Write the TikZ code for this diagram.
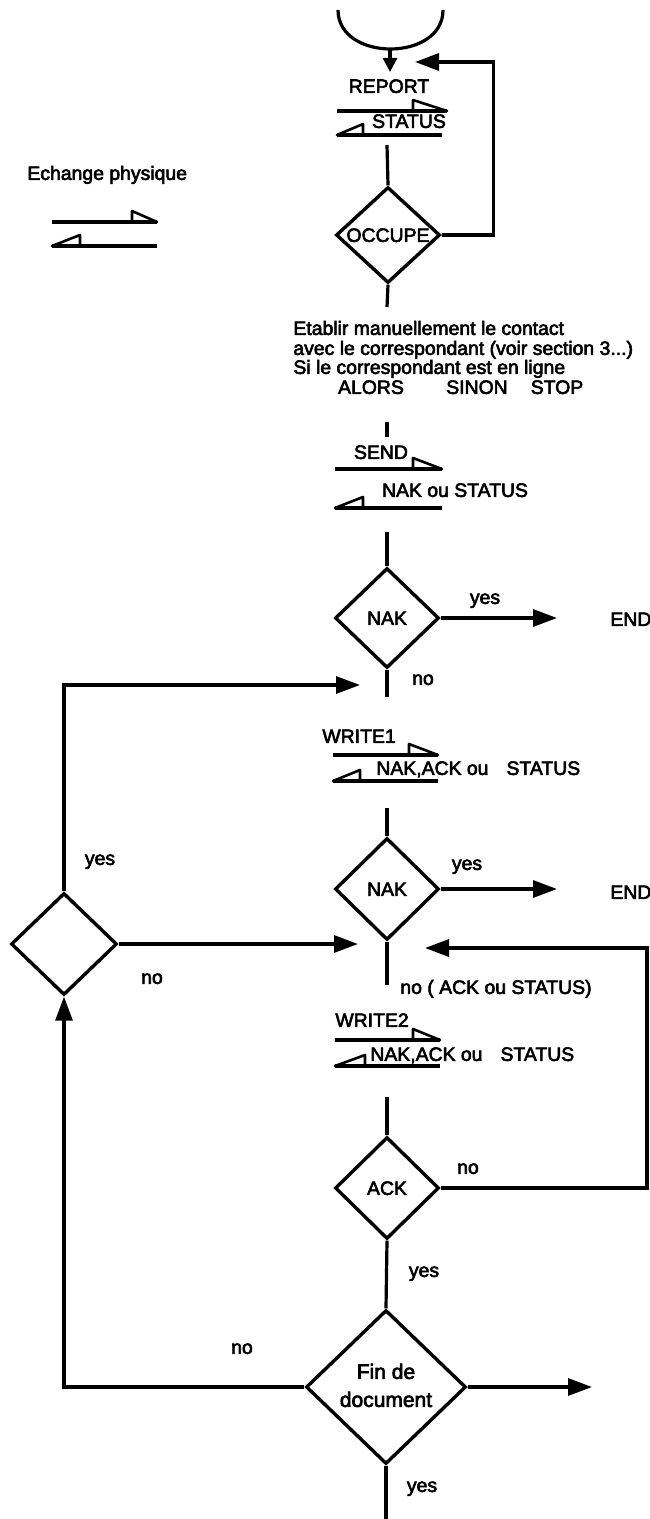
\documentclass[tikz,border=0pt]{standalone}
\usepackage{fontspec}
\setmainfont{Liberation Sans}[FakeBold=3]
\usetikzlibrary{arrows.meta,shapes.geometric}
\newcommand{\xchg}[7]{%
  \draw[ln] (#1,#3) -- (#2,#3);
  \draw[tri] (#6,#3) -- (#6,#3-11) -- (#2,#3) -- cycle;
  \draw[ln] (#1,#5) -- (#4,#5);
  \draw[tri] (#7,#5) -- (#7,#5-11) -- (#1,#5) -- cycle;
}
\begin{document}
\begin{tikzpicture}[x=0.5pt,y=-0.5pt,
  ln/.style={line width=1.6pt},
  tri/.style={line width=1.3pt,line join=round},
  arr/.style={ln,-{Triangle[length=12pt,width=8.5pt]}},
  dia/.style={draw,shape=diamond,line width=1.7pt,inner sep=0pt},
  txt/.style={inner sep=0pt,text height=6.9pt,text depth=0pt,font=\fontsize{9.7}{11}\selectfont},
  big/.style={txt,font=\fontsize{10.5}{12}\selectfont},
  lbl/.style={txt,anchor=west}]
\useasboundingbox (0,0) rectangle (649,1519);

% legend
\node[lbl] (leg) at (27,173) {Echange physique};
\xchg{52}{157}{222}{157}{246}{132}{80}

% terminal
\draw[ln] (338,10) .. controls (338,62) and (443,62) .. (443,10);
\coordinate (term) at (390,49);
\coordinate (repin) at (390,72);
\draw[ln,-{Triangle[length=7pt,width=7pt]}] (term) -- (repin);

% REPORT / STATUS
\node[txt] (report) at (389,86) {REPORT};
\xchg{337}{447}{111}{442}{135}{413}{363}
\node[txt] (status) at (409,121) {STATUS};
\coordinate (s1) at (387,145);

% OCCUPE
\node[dia,minimum width=52pt,minimum height=48pt] (occ) at (388,235) {};
\node[txt] (occt) at (occ.center) {OCCUPE};
\draw[ln] (s1) -- (occ.north);
\coordinate (loopend) at (415,62);
\draw[arr] (occ.east) -- ++(52,0) |- (loopend);
\coordinate (s2) at (387,307);
\draw[ln] (occ.south) -- (s2);

% text block
\node[lbl] (t1) at (293,328) {Etablir manuellement le contact};
\node[lbl] (t2) at (293,348) {avec le correspondant (voir section 3...)};
\node[lbl] (t3) at (293,367) {Si le correspondant est en ligne};
\node[txt] (alors) at (371,387) {ALORS};
\node[txt] (sinon) at (477,387) {SINON};
\node[txt] (stop) at (557,387) {STOP};
\coordinate (s3a) at (387,422);
\coordinate (s3b) at (387,437);
\draw[ln] (s3a) -- (s3b);

% SEND
\node[txt] (send) at (381,452) {SEND};
\xchg{335}{442}{469}{442}{508}{413}{363}
\node[txt] (naks) at (455,490) {NAK ou STATUS};
\coordinate (s4) at (387,532);

% NAK 1
\node[dia,minimum width=52pt,minimum height=50pt] (nak1) at (387,618) {};
\node[txt] (nak1t) at (nak1.center) {NAK};
\draw[ln] (s4) -- (nak1.north);
\coordinate (e1) at (557,618);
\draw[arr] (nak1.east) -- (e1);
\node[txt] (yes1) at (485,597) {yes};
\node[lbl] (end1) at (610,619) {END};
\node[txt] (no1) at (423,678) {no};
\coordinate (s5) at (387,697);
\draw[ln] (nak1.south) -- (s5);

% left decision
\node[dia,minimum width=53pt,minimum height=51pt] (ld) at (64,944) {};
\coordinate (w1in) at (360,685);
\draw[arr] (ld.north) |- (w1in);
\node[txt] (yesl) at (100,858) {yes};
\coordinate (w2in) at (358,944);
\draw[arr] (ld.east) -- (w2in);
\node[txt] (nol) at (152,977) {no};

% WRITE1
\node[lbl] (w1) at (322,736) {WRITE1};
\xchg{333}{438}{755}{438}{781}{409}{360}
\node[lbl] (w1r) at (376,768) {NAK,ACK ou\hspace{9pt}STATUS};
\coordinate (s6) at (387,808);

% NAK 2
\node[dia,minimum width=52pt,minimum height=51pt] (nak2) at (387,889) {};
\node[txt] (nak2t) at (nak2.center) {NAK};
\draw[ln] (s6) -- (nak2.north);
\coordinate (e2) at (557,889);
\draw[arr] (nak2.east) -- (e2);
\node[txt] (yes2) at (467,863) {yes};
\node[lbl] (end2) at (610,892) {END};
\coordinate (s7) at (387,985);
\draw[ln] (nak2.south) -- (s7);
\node[lbl] (no2) at (400,987) {no ( ACK ou STATUS)};

% WRITE2
\node[lbl] (w2) at (335,1020) {WRITE2};
\xchg{335}{440}{1040}{440}{1066}{413}{365}
\node[lbl] (w2r) at (370,1054) {NAK,ACK ou\hspace{9pt}STATUS};
\coordinate (s8) at (387,1097);

% ACK
\node[dia,minimum width=52pt,minimum height=51pt] (ack) at (387,1188) {};
\node[txt] (ackt) at (ack.center) {ACK};
\draw[ln] (s8) -- (ack.north);
\node[txt] (no3) at (468,1167) {no};
\coordinate (rin) at (425,948);
\draw[arr] (ack.east) -- (647,1188) |- (rin);

% Fin de document
\node[dia,minimum width=80pt,minimum height=77pt] (fin) at (386,1387) {};
\node[big] (fin1) at (386,1372) {Fin de};
\node[big] (fin2) at (386,1400) {document};
\draw[ln] (ack.south) -- (fin.north);
\node[txt] (yes3) at (424,1270) {yes};
\node[txt] (no4) at (242,1347) {no};
\draw[arr] (fin.west) -| (ld.south);
\coordinate (e3) at (592,1387);
\draw[arr] (fin.east) -- (e3);
\coordinate (bot) at (386,1519);
\draw[ln] (fin.south) -- (bot);
\node[txt] (yes4) at (422,1485) {yes};
\end{tikzpicture}
\end{document}
